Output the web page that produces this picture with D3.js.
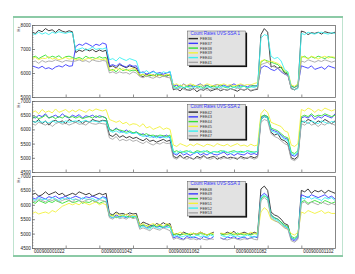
<!DOCTYPE html>
<html>
<head>
<meta charset="utf-8">
<script src="https://cdn.jsdelivr.net/npm/d3@7"></script>
<style>
    body { margin: 0; background: #fff; }
    svg { display: block; font-family: "Liberation Sans", Arial, sans-serif; }
</style>
</head>
<body>
<div class="chart"></div>
<script>
// first sample, one value per step after it
const xStart = 1022;
const xEnd = 1112;
const xLabelValues = [1022, 1042, 1062, 1082, 1102];
const xLabelPrefix = "00090000";

const colors = ["#2a2a2a", "#3a3aff", "#33e033", "#f2f23a", "#3af2f2", "#a6a6a6"];

const titles = ["Count Rates UVS-SSA 1", "Count Rates UVS-SSA 2", "Count Rates UVS-SSA 3"];
const names1 = ["FEE36", "FEE37", "FEE38", "FEE39", "FEE40", "FEE41"];
const names2 = ["FEE42", "FEE43", "FEE44", "FEE45", "FEE46", "FEE47"];
const names3 = ["FEE48", "FEE49", "FEE50", "FEE51", "FEE52", "FEE53"];

// panel 1
const fee36 = [7700,7650,7780,7720,7850,7760,7800,7690,7820,7740,7700,7760,7720,
    6850,6950,6900,7000,6920,6980,6880,6960,6900,6950,
    6250,6300,6200,6350,6280,6220,6300,6250,6200,
    5900,5850,5950,5880,5920,5860,5950,5900,5870,5920,
    5300,5350,5250,5400,5300,5280,5350,5220,5320,5280,5380,5250,5300,5350,5260,5320,5280,5350,5300,5240,5330,5280,5350,5250,5300,5320,
    7600,7850,7700,
    6250,6300,6200,6250,6000,5950,
    5350,5300,5400,
    7750,7700,7600,7680,7650,7700,7620,7720,7680,7650,7700];
const fee37 = [6300,6250,6200,6280,6180,6220,6150,6250,6300,6250,6350,6280,6300,
    7100,7200,7150,7250,7180,7100,7200,7150,7250,7200,
    6300,6350,6280,6400,6300,6250,6350,6280,6300,
    6000,6050,5950,6000,6080,5980,6020,5950,6000,6050,
    5450,5500,5400,5550,5450,5500,5420,5480,5550,5450,5500,5400,5480,5520,5450,5500,5430,5480,5550,5450,5500,5480,5420,5500,5450,5480,
    6200,6300,6250,
    6150,6100,6200,6050,5950,5900,
    5450,5400,5500,
    6300,6250,6200,6300,6150,6200,6250,6150,6300,6250,6200];
const fee38 = [6650,6700,6600,6680,6750,6620,6700,6650,6720,6600,6680,6700,6650,
    6600,6650,6580,6700,6620,6650,6600,6680,6620,6650,
    6100,6150,6050,6200,6100,6150,6080,6120,6100,
    5900,5950,5850,5920,5880,5950,5900,5850,5920,5900,
    5450,5400,5500,5380,5450,5420,5500,5400,5450,5380,5480,5420,5450,5400,5500,5420,5380,5450,5400,5480,5420,5450,5380,5430,5480,5420,
    6450,6550,6500,
    6450,6400,6350,6200,6050,6000,
    5450,5400,5500,
    6650,6700,6600,6680,6620,6700,6650,6600,6680,6650,6620];
const fee39 = [6600,6650,6550,6620,6600,6680,6580,6620,6550,6600,6650,6580,6600,
    6550,6600,6520,6580,6620,6550,6600,6580,6550,6600,
    6150,6100,6200,6120,6180,6100,6150,6200,6120,
    5900,5950,5880,5950,5900,5850,5920,5880,5950,5900,
    5500,5550,5450,5520,5480,5550,5500,5450,5520,5480,5550,5500,5460,5520,5500,5550,5480,5520,5460,5500,5550,5480,5520,5500,5560,5600,
    6500,6550,6450,
    6500,6450,6400,6300,6100,6050,
    5500,5450,5550,
    6700,6650,6600,6700,6650,6580,6650,6700,6620,6680,6650];
const fee40 = [7650,7600,7700,7620,7680,7600,7700,7650,7720,7680,7650,7700,7680,
    6950,7000,7050,6950,7000,7080,6980,7020,7000,7050,
    6550,6600,6500,6650,6580,6520,6600,6550,6500,
    6050,6000,6100,5980,6050,6000,5950,6050,6000,6080,
    5400,5350,5450,5380,5420,5350,5400,5450,5380,5350,5420,5400,5350,5420,5380,5450,5400,5350,5420,5380,5400,5450,5380,5420,5400,5450,
    7450,7600,7550,
    6700,6600,6650,6500,6150,6050,
    5400,5300,5350,
    7650,7600,7700,7650,7620,7680,7700,7650,7620,7680,7650];
const fee41 = [6450,6500,6400,6520,6450,6500,6480,6550,6500,6450,6520,6500,6480,
    6500,6550,6480,6520,6450,6550,6500,6480,6520,6500,
    6000,6050,5980,6050,6000,6020,5950,6050,6000,
    5850,5800,5880,5820,5780,5850,5800,5880,5820,5800,
    5350,5300,5380,5320,5280,5350,5300,5380,5300,5350,5280,5320,5380,5300,5350,5320,5280,5350,5300,5380,5320,5300,5350,5280,5320,5350,
    6350,6400,6450,
    6300,6250,6200,6100,5950,5900,
    5350,5300,5400,
    6500,6450,6550,6500,6450,6520,6480,6550,6500,6450,6500];

// panel 2
const fee42 = [6300,6250,6350,6200,6300,6150,6280,6320,6250,6300,6200,6350,6280,6250,6320,6200,6300,6250,6350,6300,6280,6320,6300,
    5800,5750,5850,5720,5780,5700,5750,5680,5720,
    5650,5600,5680,5580,5620,5550,5600,5650,5580,5620,
    5050,5000,5100,4980,5050,5000,4950,5050,5000,5080,4980,5020,5050,4950,5000,5050,4980,5020,5000,4950,5050,5000,4980,5050,5000,5050,
    6350,6450,6400,
    5900,5800,5850,5650,5600,5500,
    5000,4950,5050,
    6300,6250,6350,6300,6200,6300,6250,6350,6280,6200,6300];
const fee43 = [6450,6400,6500,6450,6550,6400,6450,6500,6420,6550,6450,6400,6500,6450,6520,6400,6480,6450,6500,6420,6480,6450,6400,
    6000,5950,6050,5950,5900,5980,5900,5850,5920,
    5800,5850,5750,5800,5720,5780,5700,5750,5800,5700,
    5150,5100,5200,5100,5150,5080,5150,5200,5100,5150,5100,5180,5120,5100,5150,5200,5100,5150,5080,5150,5120,5100,5180,5120,5150,5100,
    6400,6500,6450,
    6000,5950,5900,5800,5700,5650,
    5100,5050,5150,
    6400,6450,6400,6500,6350,6450,6400,6500,6450,6400,6550];
const fee44 = [6400,6450,6380,6420,6500,6400,6450,6380,6450,6400,6480,6420,6450,6400,6450,6380,6420,6450,6400,6480,6420,6450,6400,
    6000,5950,6020,5980,5950,5900,5950,5880,5900,
    5850,5800,5850,5780,5800,5750,5800,5780,5750,5800,
    5200,5250,5180,5220,5250,5200,5180,5250,5220,5200,5250,5180,5220,5200,5250,5230,5180,5220,5250,5200,5230,5200,5250,5220,5200,5230,
    6450,6500,6450,
    6050,6000,5950,5850,5750,5700,
    5200,5150,5250,
    6450,6500,6450,6550,6450,6500,6480,6550,6500,6450,6500];
const fee45 = [6600,6650,6550,6700,6600,6650,6580,6720,6600,6650,6700,6600,6680,6620,6700,6650,6600,6700,6650,6720,6680,6650,6700,
    6350,6300,6250,6300,6200,6250,6150,6200,6180,
    6100,6200,6050,6100,6000,6050,6100,6000,6050,6000,
    5450,5400,5500,5450,5400,5480,5420,5500,5450,5400,5480,5450,5400,5500,5450,5420,5480,5400,5450,5500,5420,5450,5400,5480,5420,5450,
    6550,6700,6600,
    6250,6200,6150,6100,5950,5900,
    5450,5400,5500,
    6700,6650,6750,6700,6600,6700,6650,6750,6700,6650,6700];
const fee46 = [6280,6250,6300,6250,6280,6220,6300,6250,6280,6230,6300,6250,6280,6300,6250,6280,6320,6250,6300,6280,6250,6300,6280,
    5950,5900,5950,5880,5920,5850,5900,5850,5880,
    5800,5750,5780,5720,5750,5700,5750,5720,5700,5750,
    5200,5150,5250,5180,5200,5250,5150,5200,5180,5250,5200,5150,5220,5200,5180,5250,5200,5150,5200,5220,5180,5200,5250,5180,5200,5220,
    6350,6450,6400,
    5950,5900,5850,5750,5650,5600,
    5150,5100,5200,
    6250,6300,6200,6300,6250,6200,6300,6250,6200,6280,6250];
const fee47 = [6200,6150,6250,6200,6150,6220,6100,6200,6250,6180,6220,6150,6200,6250,6180,6200,6150,6250,6200,6180,6220,6200,6180,
    5700,5650,5750,5600,5650,5600,5650,5580,5620,
    5550,5500,5580,5500,5450,5520,5480,5550,5500,5520,
    5000,4950,5050,4980,4950,5020,4950,5000,4950,5050,4980,4950,5000,5050,4950,5000,4980,4950,5020,4980,5000,4950,5020,5000,4950,5000,
    6250,6350,6300,
    5850,5750,5700,5600,5500,5450,
    4950,4900,5000,
    6200,6150,6250,6150,6200,6100,6200,6150,6250,6200,6150];

// panel 3 (no sample at 1077)
const fee48 = [6350,6400,6300,6350,6450,6350,6400,6450,6350,6400,6300,6350,6400,6350,6450,6400,6350,6400,6300,6350,6400,6350,6400,
    5700,5650,5750,5680,5700,5650,5720,5680,5700,
    5300,5400,5350,5300,5250,5350,5300,5380,5300,5350,
    4950,5000,4950,5050,5000,4950,5000,4980,5050,5000,4950,5000,5050,null,5000,4980,5050,5000,5080,4950,5000,5050,5000,4980,5050,5000,
    6550,6650,6500,
    5750,5650,5600,5500,5350,5300,
    4850,4800,4900,
    6500,6450,6550,6400,6500,6450,6500,6400,6500,6450,6400];
const fee49 = [6250,6200,6300,6250,6200,6280,6250,6300,6220,6250,6300,6200,6250,6300,6250,6200,6280,6250,6300,6250,6200,6280,6250,
    5600,5550,5650,5580,5600,5550,5650,5600,5580,
    5250,5300,5200,5250,5300,5220,5250,5200,5250,5300,
    4850,4900,4850,4800,4900,4850,4880,4850,4800,4900,4850,4820,4900,null,4850,4800,4880,4850,4900,4820,4850,4880,4820,4850,4900,4850,
    6300,6400,6300,
    5650,5550,5500,5400,5250,5200,
    4800,4750,4850,
    6350,6300,6250,6350,6300,6250,6300,6350,6250,6300,6200];
const fee50 = [6100,6050,6150,6100,6050,6120,6080,6150,6100,6050,6100,6150,6080,6100,6150,6050,6100,6080,6150,6100,6050,6100,6120,
    5600,5650,5550,5600,5650,5580,5600,5550,5620,
    5250,5300,5280,5200,5300,5250,5280,5220,5300,5250,
    4950,5000,4950,4980,5000,4950,5020,4950,5000,4980,4950,5000,4950,null,5000,4950,4980,5000,4950,5020,4980,4950,5000,4950,5000,4980,
    6200,6300,6250,
    5650,5550,5500,5400,5300,5250,
    4900,4850,4950,
    6100,6150,6050,6100,6150,6100,6050,6150,6100,6050,6100];
const fee51 = [5700,5750,5680,5720,5750,5700,5800,5750,5850,5950,6000,6050,6000,6050,6000,6100,6050,6000,6050,6100,6000,6050,6000,
    5650,5600,5700,5650,5600,5680,5620,5650,5600,
    5300,5350,5250,5300,5350,5280,5320,5250,5350,5300,
    5000,4980,5050,5000,4950,5020,5000,4980,5050,5000,4950,5020,5000,null,5020,5000,4980,5050,5000,4950,5020,5000,4980,5050,5000,5020,
    5750,5900,5800,
    5500,5450,5400,5350,5200,5150,
    5000,4950,5050,
    5750,5700,5800,5750,5700,5750,5800,5700,5750,5700,5700];
const fee52 = [6200,6150,6250,6180,6200,6150,6250,6200,6150,6220,6200,6250,6180,6200,6150,6250,6200,6180,6220,6150,6200,6250,6200,
    5600,5550,5600,5550,5600,5580,5550,5600,5580,
    5200,5250,5200,5150,5250,5200,5180,5250,5200,5220,
    4900,4950,4880,4900,4950,4900,4880,4950,4900,4920,4880,4950,4900,null,4950,4900,4880,4950,4900,4920,4880,4900,4950,4900,4880,4920,
    6250,6350,6200,
    5600,5500,5450,5350,5250,5200,
    4850,4800,4900,
    6250,6200,6300,6200,6250,6200,6150,6250,6200,6250,6150];
const fee53 = [6150,6100,6200,6150,6100,6180,6150,6200,6100,6150,6200,6150,6100,6200,6150,6100,6150,6200,6150,6100,6180,6150,6100,
    5550,5500,5600,5520,5550,5500,5580,5520,5550,
    5150,5200,5150,5100,5200,5150,5120,5200,5150,5100,
    4800,4850,4800,4780,4850,4800,4820,4780,4850,4800,4780,4820,4800,null,4850,4800,4780,4820,4850,4800,4780,4820,4800,4850,4800,4780,
    6150,6250,6150,
    5550,5450,5400,5300,5200,5150,
    4750,4700,4800,
    6050,6100,6000,6100,6050,6000,6100,6050,6000,6050,6000];

const panels = [
    { title: titles[0], names: names1, series: [fee36, fee37, fee38, fee39, fee40, fee41],
      domain: [5000, 8000], major: 1000, top: 25, bottom: 97, legendTop: 31 },
    { title: titles[1], names: names2, series: [fee42, fee43, fee44, fee45, fee46, fee47],
      domain: [4500, 7000], major: 500, top: 101, bottom: 172, legendTop: 104.5 },
    { title: titles[2], names: names3, series: [fee48, fee49, fee50, fee51, fee52, fee53],
      domain: [4500, 7000], major: 500, top: 176, bottom: 248, legendTop: 181.5 }
];

const width = 355;
const height = 274;
const left = 32;
const right = 335;

const svg = d3.select(".chart")
    .append("svg")
    .attr("width", width)
    .attr("height", height);

// outer frame
svg.append("rect")
    .attr("x", 13.5).attr("y", 17.5)
    .attr("width", 329).attr("height", 238)
    .attr("fill", "#fff")
    .attr("stroke", "#bfe3cf")
    .attr("stroke-width", 1);
svg.append("line")
    .attr("x1", 13).attr("x2", 343).attr("y1", 17).attr("y2", 17)
    .attr("stroke", "#8ccaa6").attr("stroke-width", 2);
svg.append("line")
    .attr("x1", 13).attr("x2", 343).attr("y1", 256).attr("y2", 256)
    .attr("stroke", "#8ccaa6").attr("stroke-width", 2);

const x = d3.scaleLinear()
    .domain([xStart, xEnd])
    .range([left, right]);

panels.forEach((p, pi) => {
    const y = d3.scaleLinear()
        .domain(p.domain)
        .range([p.bottom, p.top]);

    const g = svg.append("g");

    g.append("rect")
        .attr("x", left).attr("y", p.top)
        .attr("width", right - left).attr("height", p.bottom - p.top)
        .attr("fill", "#fff");

    // minor y ticks
    g.append("g")
        .attr("transform", `translate(${left},0)`)
        .call(d3.axisLeft(y).tickValues(d3.range(p.domain[0], p.domain[1] + 1, 100)).tickSize(-1.5).tickFormat(""))
        .call(a => a.select(".domain").remove())
        .selectAll("line").attr("stroke", "#555").attr("stroke-width", 0.5);

    // major y ticks + labels
    g.append("g")
        .attr("transform", `translate(${left},0)`)
        .call(d3.axisLeft(y)
            .tickValues(d3.range(p.domain[0], p.domain[1] + 1, p.major))
            .tickSize(-3).tickPadding(1.2).tickFormat(d3.format("d")))
        .call(a => a.select(".domain").remove())
        .call(a => a.selectAll("line").attr("stroke", "#444").attr("stroke-width", 0.6))
        .call(a => a.selectAll("text").attr("font-size", 4.6).attr("fill", "#222").attr("font-family", null));

    // x ticks
    g.append("g")
        .attr("transform", `translate(0,${p.bottom})`)
        .call(d3.axisBottom(x).tickValues(d3.range(xStart + 10, xEnd, 10)).tickSize(-2.5).tickFormat(""))
        .call(a => a.select(".domain").remove())
        .selectAll("line").attr("stroke", "#444").attr("stroke-width", 0.6);

    // Hz label
    g.append("text")
        .attr("transform", `translate(19.5,${p.top + 4}) rotate(-90)`)
        .attr("text-anchor", "middle")
        .attr("font-size", 4)
        .attr("fill", "#222")
        .text("Hz");

    const line = d3.line()
        .defined(d => d != null)
        .x((d, i) => x(xStart + i))
        .y(d => y(d));

    g.selectAll("path.series")
        .data(p.series)
        .join("path")
        .attr("class", "series")
        .attr("fill", "none")
        .attr("stroke", (d, i) => colors[i])
        .attr("stroke-width", 0.9)
        .attr("stroke-linejoin", "round")
        .attr("d", line);

    g.append("rect")
        .attr("x", left + 0.5).attr("y", p.top + 0.5)
        .attr("width", right - left).attr("height", p.bottom - p.top)
        .attr("fill", "none")
        .attr("stroke", "#6a6a6a")
        .attr("stroke-width", 0.8);

    // legend
    const lx = 187.5;
    const ly = p.legendTop;
    const lw = 58;
    const lh = 34.5;
    const leg = g.append("g");

    leg.append("rect")
        .attr("x", lx + 1.6).attr("y", ly + 1.6)
        .attr("width", lw).attr("height", lh)
        .attr("fill", "#111");
    leg.append("rect")
        .attr("x", lx).attr("y", ly)
        .attr("width", lw).attr("height", lh)
        .attr("fill", "#e2e2e2")
        .attr("stroke", "#555")
        .attr("stroke-width", 0.5);
    leg.append("text")
        .attr("x", lx + 3).attr("y", ly + 3.9)
        .attr("font-size", 4.5)
        .attr("fill", "#3333ff")
        .text(p.title);

    const item = leg.selectAll("g.item")
        .data(p.names)
        .join("g")
        .attr("class", "item")
        .attr("transform", (d, i) => `translate(${lx + 1},${ly + 7.6 + i * 4.75})`);
    item.append("line")
        .attr("x1", 0).attr("x2", 9.5)
        .attr("stroke", (d, i) => colors[i])
        .attr("stroke-width", 1.4);
    item.append("text")
        .attr("x", 11.5).attr("y", 1.4)
        .attr("font-size", 3.9)
        .attr("fill", "#333")
        .text(d => d);
});

// x labels under the last panel
svg.append("g")
    .selectAll("text")
    .data(xLabelValues)
    .join("text")
    .attr("x", d => x(d) + 2)
    .attr("y", 252.8)
    .attr("font-size", 4.6)
    .attr("fill", "#222")
    .text(d => xLabelPrefix + d);
</script>
</body>
</html>
